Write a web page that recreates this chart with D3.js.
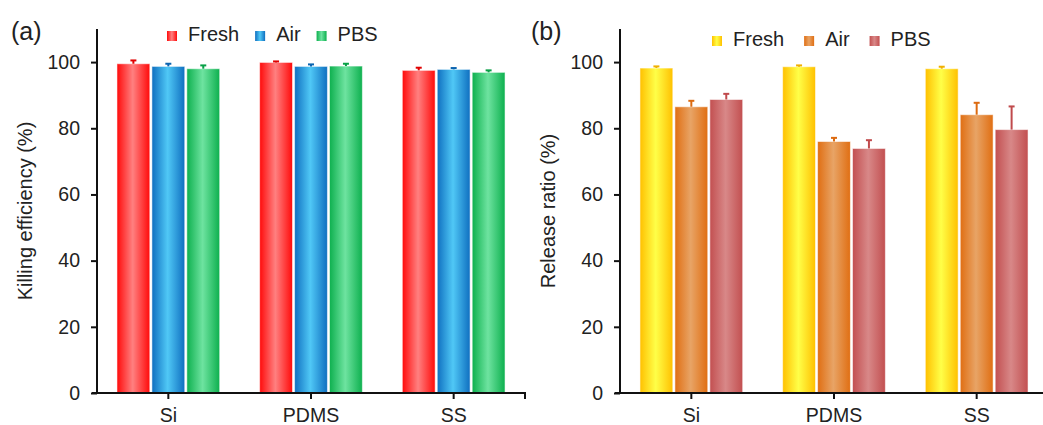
<!DOCTYPE html>
<html>
<head>
<meta charset="utf-8">
<script src="https://cdn.jsdelivr.net/npm/d3@7"></script>
<style>
  body { margin: 0; background: #fff; }
  svg { display: block; font-family: "Liberation Sans", Arial, sans-serif; }
  .axis path, .axis line { stroke: #111; stroke-width: 2; }
  .axis text { fill: #222; font-size: 19.5px; }
</style>
</head>
<body>
<svg id="chart" width="1043" height="425"></svg>
<script>
// categories and tick labels
const categories = ['Si', 'PDMS', 'SS'];
const seriesNames = ['Fresh', 'Air', 'PBS'];
const yTicks = [0, 20, 40, 60, 80, 100];

// (a) killing efficiency (%)
const killFresh = [99.5, 99.9, 97.5];
const killAir = [98.7, 98.7, 97.8];
const killPBS = [98.0, 98.8, 96.9];
const killFreshErr = [1.0, 0.3, 0.8];
const killAirErr = [0.8, 0.6, 0.4];
const killPBSErr = [1.0, 0.7, 0.6];

// (b) release ratio (%)
const relFresh = [98.2, 98.6, 98.0];
const relAir = [86.5, 76.0, 84.1];
const relPBS = [88.7, 73.9, 79.6];
const relFreshErr = [0.5, 0.4, 0.6];
const relAirErr = [1.8, 1.1, 3.6];
const relPBSErr = [1.7, 2.5, 7.0];

const svg = d3.select('#chart');
const defs = svg.append('defs');

// horizontal gradient: dark edge -> light centre -> dark edge
function gradient(id, edge, light) {
  const g = defs.append('linearGradient').attr('id', id)
    .attr('x1', 0).attr('x2', 1).attr('y1', 0).attr('y2', 0);
  g.append('stop').attr('offset', '0%').attr('stop-color', edge);
  g.append('stop').attr('offset', '48%').attr('stop-color', light);
  g.append('stop').attr('offset', '100%').attr('stop-color', edge);
}

const panelA = [
  { name: 'Fresh', vals: killFresh, errs: killFreshErr, edge: '#ff0a0a', light: '#ff8080', dark: '#e00000' },
  { name: 'Air', vals: killAir, errs: killAirErr, edge: '#0f6fc0', light: '#50c8f6', dark: '#0b64b0' },
  { name: 'PBS', vals: killPBS, errs: killPBSErr, edge: '#0db04e', light: '#6ee3a0', dark: '#08a046' }
];
const panelB = [
  { name: 'Fresh', vals: relFresh, errs: relFreshErr, edge: '#ffc000', light: '#ffff48', dark: '#f0b000' },
  { name: 'Air', vals: relAir, errs: relAirErr, edge: '#e06e12', light: '#e8a466', dark: '#dc6a10' },
  { name: 'PBS', vals: relPBS, errs: relPBSErr, edge: '#c24f50', light: '#d88888', dark: '#c04a4c' }
];

function drawPanel(cfg) {
  const { series, left, right, label, title, titleX, legendX, legendY, prefix } = cfg;
  const top = 29, bottom = 393;
  const g = svg.append('g');

  series.forEach((s, i) => gradient(prefix + i, s.edge, s.light));

  const x0 = d3.scaleBand().domain(categories).range([left, right])
    .paddingInner(0.28).paddingOuter(0.14);
  const x1 = d3.scaleBand().domain(seriesNames).range([0, x0.bandwidth()])
    .paddingInner(0.06);
  const y = d3.scaleLinear().domain([0, 110]).range([bottom, top]);

  // bars
  series.forEach((s, i) => {
    g.selectAll(null).data(s.vals).enter().append('rect')
      .attr('x', (d, k) => x0(categories[k]) + x1(s.name))
      .attr('width', x1.bandwidth())
      .attr('y', d => y(d))
      .attr('height', d => y(0) - y(d))
      .attr('fill', `url(#${prefix}${i})`)
      .attr('stroke', '#fff')
      .attr('stroke-opacity', 0.55)
      .attr('stroke-width', 1);

    // upper error bars
    const eb = g.selectAll(null).data(s.vals).enter().append('g')
      .attr('transform', (d, k) => `translate(${x0(categories[k]) + x1(s.name) + x1.bandwidth() / 2},0)`);
    eb.append('line')
      .attr('y1', d => y(d))
      .attr('y2', (d, k) => y(d + s.errs[k]))
      .attr('stroke', s.dark).attr('stroke-width', 2);
    eb.append('line')
      .attr('x1', -3).attr('x2', 3)
      .attr('y1', (d, k) => y(d + s.errs[k]))
      .attr('y2', (d, k) => y(d + s.errs[k]))
      .attr('stroke', s.dark).attr('stroke-width', 2);
  });

  // axes
  const yAxis = g.append('g').attr('class', 'axis')
    .attr('transform', `translate(${left},0)`)
    .call(d3.axisLeft(y).tickValues(yTicks).tickSize(6).tickPadding(11).tickSizeOuter(0));
  const xAxis = g.append('g').attr('class', 'axis')
    .attr('transform', `translate(0,${bottom})`)
    .call(d3.axisBottom(x0).tickSize(6).tickPadding(9).tickSizeOuter(0));
  xAxis.select('.domain').attr('d', `M${left - 5},0H${right}` + (cfg.endTick ? 'v6' : ''));
  yAxis.select('.domain').attr('d', `M0,${top}V${bottom}`);

  // y title
  g.append('text')
    .attr('transform', `translate(${titleX},${(top + bottom) / 2}) rotate(-90)`)
    .attr('text-anchor', 'middle').attr('dy', '0.35em')
    .attr('font-size', 20).attr('fill', '#222')
    .text(title);

  // panel label
  g.append('text').attr('x', cfg.labelX).attr('y', 40)
    .attr('font-size', 25).attr('fill', '#222').text(label);

  // legend
  let lx = legendX;
  series.forEach((s, i) => {
    g.append('rect').attr('x', lx).attr('y', legendY - 10)
      .attr('width', 10).attr('height', 10)
      .attr('fill', `url(#${prefix}${i})`);
    const t = g.append('text').attr('x', lx + 21).attr('y', legendY)
      .attr('font-size', 20).attr('fill', '#222').text(s.name);
    lx += 21 + t.node().getComputedTextLength() + cfg.legendGap;
  });
}

drawPanel({
  series: panelA, left: 97, right: 525, prefix: 'ga', endTick: true,
  label: '(a)', labelX: 11, title: 'Killing efficiency (%)', titleX: 25,
  legendX: 167, legendY: 41, legendGap: 16
});
drawPanel({
  series: panelB, left: 620, right: 1048, prefix: 'gb', endTick: false,
  label: '(b)', labelX: 531, title: 'Release ratio (%)', titleX: 548,
  legendX: 712, legendY: 46, legendGap: 20
});
</script>
</body>
</html>
